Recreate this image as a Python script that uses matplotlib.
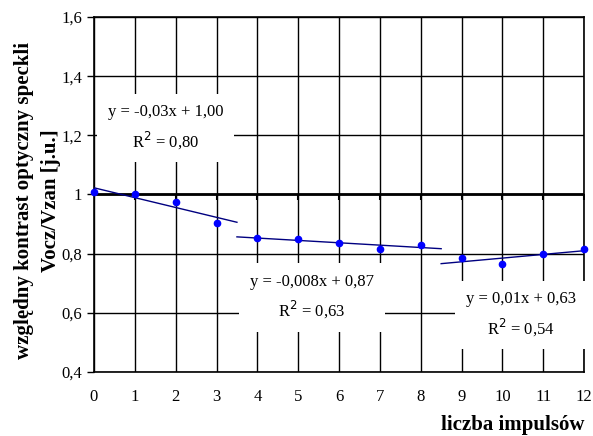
import numpy as np
import matplotlib.pyplot as plt

plt.rcParams['font.family'] = ['Liberation Serif', 'DejaVu Serif']

impulses = [0, 1, 2, 3, 4, 5, 6, 7, 8, 9, 10, 11, 12]
contrast = [1.007, 1.003, 0.976, 0.905, 0.853, 0.85, 0.835, 0.816, 0.83, 0.785, 0.765, 0.80, 0.815]

# fit segments: (first index, last index, line start, line end)
segments = [(0, 3, 0, 3.5), (4, 8, 3.5, 8.5), (9, 12, 8.5, 12)]
labels = ["y = -0,03x + 1,00\nR$^2$ = 0,80",
          "y = -0,008x + 0,87\nR$^2$ = 0,63",
          "y = 0,01x + 0,63\nR$^2$ = 0,54"]
label_pos = [(1.75, 1.226), (5.34, 0.653), (10.46, 0.594)]

yticks = [0.4, 0.6, 0.8, 1.0, 1.2, 1.4, 1.6]
ytick_labels = ["0,4", "0,6", "0,8", "1", "1,2", "1,4", "1,6"]

fig = plt.figure(figsize=(5.93, 4.36), dpi=100)
ax = fig.add_axes([0.1585, 0.1468, 0.8265, 0.8142])

x = np.array(impulses)
y = np.array(contrast)

ax.grid(True, color='black', lw=1)
ax.set_axisbelow(True)
ax.axhline(1.0, color='black', lw=2, zorder=2)
ax.plot(impulses, [1.0] * len(impulses), ls='none', marker=3, ms=4,
        mew=1.5, color='black', zorder=2)

for i0, i1, xa, xb in segments:
    k, b = np.polyfit(x[i0:i1 + 1], y[i0:i1 + 1], 1)
    xs = np.array([xa, xb])
    ax.plot(xs, k * xs + b, color='#000080', lw=1, zorder=3)

ax.plot(impulses, contrast, 'o', color='blue', ms=4.5, zorder=4, clip_on=False)

for txt, (tx, ty) in zip(labels, label_pos):
    ax.text(tx, ty, txt, ha='center', va='center', fontsize=12,
            linespacing=1.5, zorder=5,
            bbox=dict(facecolor='white', edgecolor='none', pad=8))

ax.set_xlim(0, 12)
ax.set_ylim(0.4, 1.6)
ax.set_xticks(impulses)
ax.set_yticks(yticks)
ax.set_yticklabels(ytick_labels)
ax.tick_params(axis='x', length=0, pad=12, labelsize=12)
ax.tick_params(axis='y', length=5, width=1, labelsize=12, direction='out')
for s in ax.spines.values():
    s.set_linewidth(1.2)

ax.set_ylabel("względny kontrast optyczny speckli\nVocz/Vzan [j.u.]",
              fontsize=15, fontweight='bold', linespacing=1.45)
ax.yaxis.set_label_coords(-0.067, 0.483)
ax.set_xlabel("liczba impulsów", fontsize=15, fontweight='bold')
ax.xaxis.set_label_coords(1.0, -0.149)
ax.xaxis.label.set_ha('right')
ax.xaxis.label.set_va('center')

fig.savefig('out.png', dpi=100)
